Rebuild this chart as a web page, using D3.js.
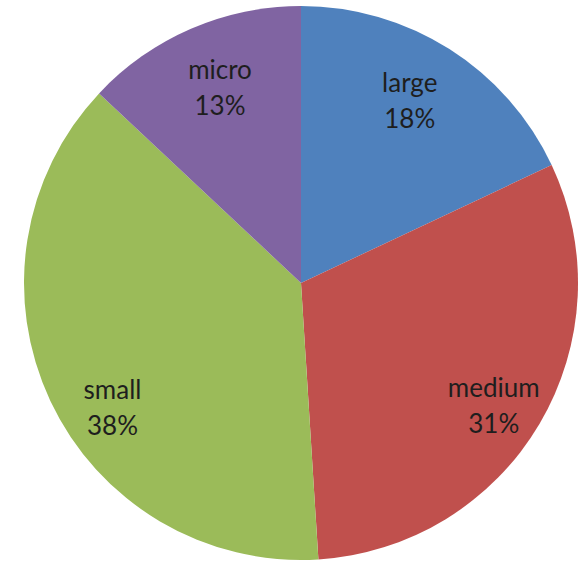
<!DOCTYPE html>
<html lang="en">
<head>
<meta charset="UTF-8">
<title>Company size pie</title>
<script src="https://d3js.org/d3.v7.min.js"></script>
<style>
    body { margin: 0; background: #fff; }
    .label text {
        font-family: Lato, "Open Sans", sans-serif;
        font-size: 26px;
        fill: #1e1e1e;
    }
</style>
</head>
<body>
<svg width="584" height="562"></svg>
<script>
    // slices, clockwise from 12 o'clock
    var categories = ["large", "medium", "small", "micro"];
    var shares = [18, 31, 38, 13];
    var colors = ["#4f81bd", "#c0504d", "#9bbb59", "#8064a2"];

    var w = 584, h = 562;
    var cx = 301, cy = 283, radius = 277;

    // Excel's label placement is not exactly the centroid, nudge a bit
    var labelNudge = {
        large: [-10, 2],
        medium: [2, 7],
        small: [12, 28],
        micro: [7, 5]
    };

    var data = categories.map(function(c, i) {
        return { name: c, value: shares[i] };
    });

    var svg = d3.select("svg");
    var g = svg.append("g")
        .attr("transform", "translate(" + cx + "," + cy + ")");

    var color = d3.scaleOrdinal().domain(categories).range(colors);

    var pie = d3.pie()
        .sort(null)
        .value(function(d) { return d.value; });

    var arc = d3.arc().innerRadius(0).outerRadius(radius);
    var labelArc = d3.arc().innerRadius(radius * 0.8).outerRadius(radius * 0.8);

    var total = d3.sum(shares);
    var arcs = pie(data);

    g.selectAll("path.slice")
        .data(arcs)
        .enter().append("path")
        .attr("class", "slice")
        .attr("d", arc)
        .attr("fill", function(d) { return color(d.data.name); });

    var labels = g.selectAll("g.label")
        .data(arcs)
        .enter().append("g")
        .attr("class", "label")
        .attr("transform", function(d) {
            var p = labelArc.centroid(d);
            var n = labelNudge[d.data.name] || [0, 0];
            return "translate(" + (p[0] + n[0]) + "," + (p[1] + n[1]) + ")";
        });

    labels.append("text")
        .attr("text-anchor", "middle")
        .attr("y", -6)
        .text(function(d) { return d.data.name; });

    labels.append("text")
        .attr("text-anchor", "middle")
        .attr("y", 30)
        .text(function(d) { return Math.round(d.data.value / total * 100) + "%"; });
</script>
</body>
</html>
